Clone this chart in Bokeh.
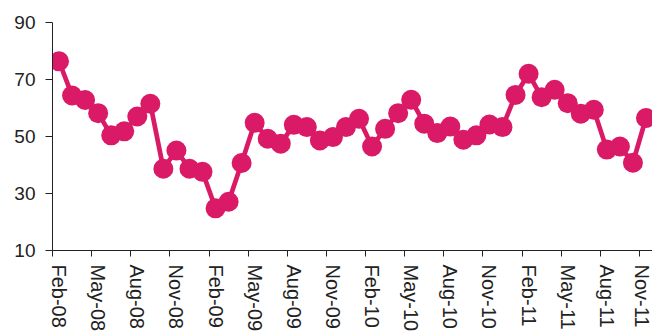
from bokeh.plotting import figure
from bokeh.models import Range1d, FixedTicker
from bokeh.embed import file_html
from bokeh.resources import INLINE

# Monthly index, Feb-08 .. Nov-11
months = [
    "Feb-08", "Mar-08", "Apr-08", "May-08", "Jun-08", "Jul-08", "Aug-08", "Sep-08",
    "Oct-08", "Nov-08", "Dec-08", "Jan-09", "Feb-09", "Mar-09", "Apr-09", "May-09",
    "Jun-09", "Jul-09", "Aug-09", "Sep-09", "Oct-09", "Nov-09", "Dec-09", "Jan-10",
    "Feb-10", "Mar-10", "Apr-10", "May-10", "Jun-10", "Jul-10", "Aug-10", "Sep-10",
    "Oct-10", "Nov-10", "Dec-10", "Jan-11", "Feb-11", "Mar-11", "Apr-11", "May-11",
    "Jun-11", "Jul-11", "Aug-11", "Sep-11", "Oct-11", "Nov-11",
]
values = [
    76.4, 64.4, 62.8, 58.2, 50.4, 51.8, 57.0, 61.5,
    38.7, 45.1, 38.7, 37.6, 24.8, 27.1, 40.7, 54.8,
    49.2, 47.5, 54.1, 53.3, 48.6, 49.8, 53.3, 56.2,
    46.5, 52.7, 58.2, 62.9, 54.5, 51.2, 53.5, 48.9,
    50.4, 54.2, 53.3, 64.6, 72.0, 63.8, 66.4, 61.7,
    58.0, 59.4, 45.4, 46.5, 40.8, 56.5,
]
tick_labels = months[::3]
y_ticks = [10, 30, 50, 70, 90]

COLOR = "#DA1A66"
TEXT = "#222222"
FONT = "Liberation Sans"

x = [i + 0.5 for i in range(len(values))]

p = figure(
    width=652, height=334,
    output_backend="svg", toolbar_location=None,
    x_range=Range1d(0, len(values)), y_range=Range1d(10, 90),
    min_border_left=52, min_border_right=0,
    min_border_top=22, min_border_bottom=84,
)
p.outline_line_color = None
p.xgrid.visible = False
p.ygrid.visible = False
p.background_fill_color = "white"
p.border_fill_color = "white"

p.line(x, values, line_color=COLOR, line_width=4.7)
p.scatter(x, values, size=20, fill_color=COLOR, line_color=None)

# y axis
p.yaxis.ticker = FixedTicker(ticks=y_ticks)
p.yaxis.minor_tick_line_color = None
p.yaxis.major_tick_out = 7
p.yaxis.major_tick_in = 0
p.yaxis.major_label_standoff = 10
p.yaxis.major_label_text_font = FONT
p.yaxis.major_label_text_font_size = "19px"
p.yaxis.major_label_text_color = TEXT
p.yaxis.axis_line_color = TEXT
p.yaxis.major_tick_line_color = TEXT

# x axis: labels centred on every third month, tick marks on the month
# boundaries (drawn as the minor ticks)
label_pos = [i * 3 + 0.5 for i in range(len(tick_labels))]
p.xaxis.ticker = FixedTicker(
    ticks=label_pos,
    minor_ticks=[i for i in range(0, len(values), 3)],
)
p.xaxis.major_label_overrides = {pos: t for pos, t in zip(label_pos, tick_labels)}
p.xaxis.major_label_orientation = "vertical"
p.xaxis.major_tick_out = 0
p.xaxis.major_tick_in = 0
p.xaxis.major_tick_line_color = None
p.xaxis.minor_tick_out = 6
p.xaxis.minor_tick_in = 0
p.xaxis.minor_tick_line_color = TEXT
p.xaxis.axis_line_color = TEXT
p.xaxis.major_label_standoff = 8
p.xaxis.major_label_text_font = FONT
p.xaxis.major_label_text_font_size = "20px"
p.xaxis.major_label_text_color = TEXT

open("out.html", "w").write(file_html(p, INLINE))
